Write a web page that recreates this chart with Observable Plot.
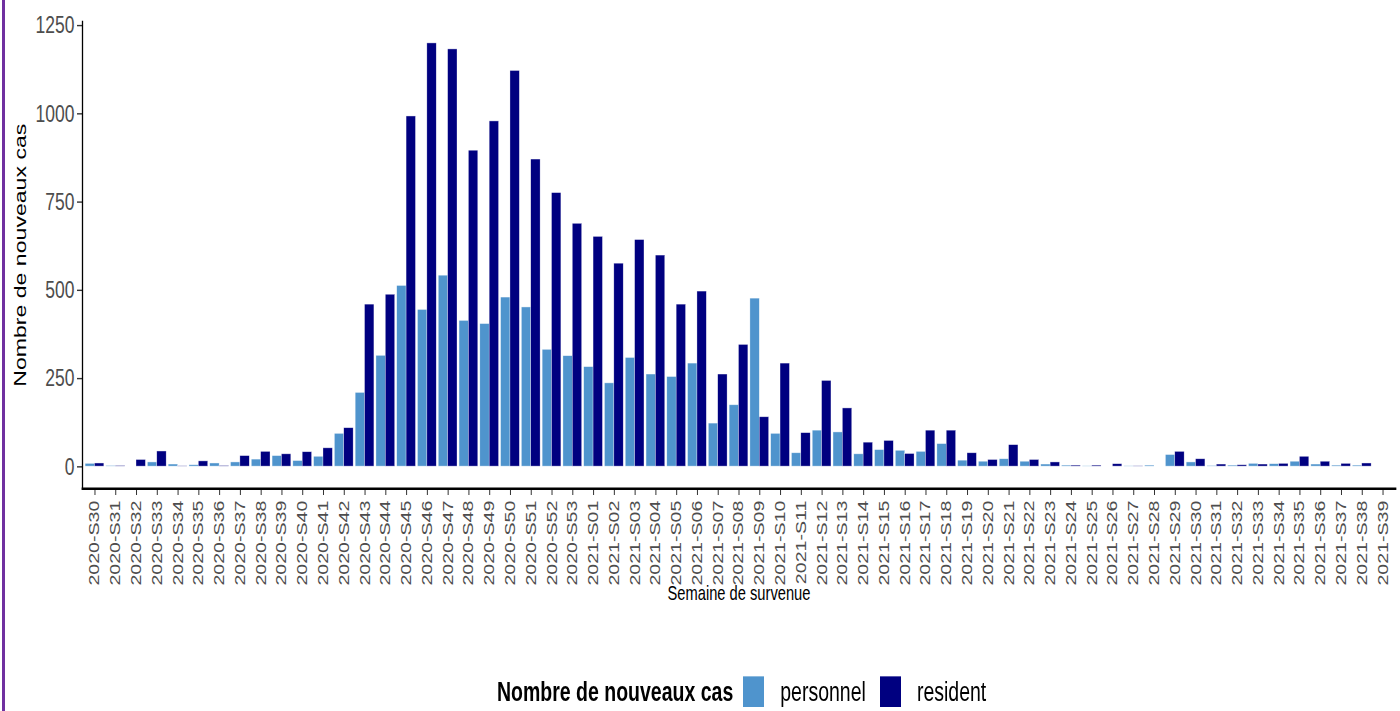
<!DOCTYPE html>
<html>
<head>
<meta charset="utf-8">
<script src="https://cdn.jsdelivr.net/npm/d3@7"></script>
<script src="https://cdn.jsdelivr.net/npm/@observablehq/plot@0.6"></script>
<style>
  html, body { margin: 0; padding: 0; background: #fff; overflow: hidden; }
  body { width: 1400px; height: 711px; position: relative; font-family: "Liberation Sans", Arial, sans-serif; }
  #edge { position: absolute; left: 2px; top: 0; width: 3px; height: 711px; background: #7030a0; z-index: 5; }
  #wrap { position: absolute; left: 0; top: 0; width: 1400px; height: 508px; transform: scaleY(1.4); transform-origin: 0 0; }
  #chart svg { overflow: visible; display: block; }
  #legend { position: absolute; left: 497px; top: 483px; height: 22px; display: flex; align-items: center; font-size: 19.5px; color: #000; white-space: nowrap; }
  #legend .title { font-weight: bold; margin-right: 10px; }
  #legend .sw { width: 21px; height: 22px; margin-right: 16px; }
  #legend .lab { margin-right: 14px; }
</style>
</head>
<body>
<div id="wrap">
  <div id="chart"></div>
  <div id="legend"></div>
</div>
<div id="edge"></div>
<script>
const weeks = [
  "2020-S30","2020-S31","2020-S32","2020-S33","2020-S34","2020-S35","2020-S36","2020-S37",
  "2020-S38","2020-S39","2020-S40","2020-S41","2020-S42","2020-S43","2020-S44","2020-S45",
  "2020-S46","2020-S47","2020-S48","2020-S49","2020-S50","2020-S51","2020-S52","2020-S53",
  "2021-S01","2021-S02","2021-S03","2021-S04","2021-S05","2021-S06","2021-S07","2021-S08",
  "2021-S09","2021-S10","2021-S11","2021-S12","2021-S13","2021-S14","2021-S15","2021-S16",
  "2021-S17","2021-S18","2021-S19","2021-S20","2021-S21","2021-S22","2021-S23","2021-S24",
  "2021-S25","2021-S26","2021-S27","2021-S28","2021-S29","2021-S30","2021-S31","2021-S32",
  "2021-S33","2021-S34","2021-S35","2021-S36","2021-S37","2021-S38","2021-S39"
];
const personnel = [
  8, 2, 0, 12, 6, 4, 9, 12,
  20, 30, 16, 28, 93, 209, 314, 512,
  444, 541, 413, 404, 479, 451, 331, 313,
  282, 236, 308, 261, 254, 292, 122, 174,
  476, 93, 38, 102, 97, 35, 47, 45,
  42, 64, 17, 14, 21, 14, 6, 3,
  1, 0, 1, 3, 33, 12, 2, 3,
  8, 7, 14, 6, 3, 3, 0
];
const resident = [
  9, 2, 19, 43, 1, 15, 2, 30,
  42, 35, 41, 52, 109, 459, 487, 992,
  1199, 1182, 895, 978, 1121, 870, 775, 688,
  651, 575, 642, 598, 459, 496, 261, 345,
  140, 292, 95, 243, 165, 68, 73, 36,
  102, 102, 38, 19, 61, 19, 12, 3,
  3, 7, 1, 0, 42, 21, 6, 4,
  6, 8, 28, 14, 8, 9, 0
];
const seriesNames = ["personnel", "resident"];
const seriesColors = ["#4f94cd", "#000080"];
const yTicks = [0, 250, 500, 750, 1000, 1250];
const yDomain = [-62, 1261];
const yTitle = "Nombre de nouveaux cas";
const xTitle = "Semaine de survenue";
const legendTitle = "Nombre de nouveaux cas";

const rows = [];
weeks.forEach((w, i) => {
  rows.push({week: w, serie: "personnel", n: personnel[i]});
  rows.push({week: w, serie: "resident", n: resident[i]});
});

const W = 1400, H = 440, mL = 82, mR = 5, mT = 15, mB = 91.4;
const pi = 0.1, po = 0.15;
const step = (W - mL - mR) / (weeks.length - pi + 2 * po);
const half = step * (1 - pi) / 2;

const barOpts = {x: "week", y: "n", fill: "serie", stroke: "white", strokeWidth: 0.5, strokeOpacity: 0.6};

const chart = Plot.plot({
  width: W, height: H,
  marginLeft: mL, marginRight: mR, marginTop: mT, marginBottom: mB,
  style: {fontFamily: "'Liberation Sans', Arial, sans-serif", background: "#fff", overflow: "visible"},
  x: {type: "band", domain: weeks, paddingInner: pi, paddingOuter: po},
  y: {domain: yDomain},
  color: {domain: seriesNames, range: seriesColors},
  marks: [
    Plot.barY(rows.filter(d => d.serie === "personnel"), {...barOpts, insetRight: half}),
    Plot.barY(rows.filter(d => d.serie === "resident"), {...barOpts, insetLeft: half}),
    Plot.axisY({ticks: yTicks, tickFormat: d => String(d), tickSize: 5, tickPadding: 3, fontSize: 17.5, stroke: "#333", fill: "#4d4d4d", label: null}),
    Plot.axisX({tickRotate: -90, tickSize: 5, tickPadding: 3.5, fontSize: 14, stroke: "#333", fill: "#4d4d4d", label: null}),
    Plot.frame({anchor: "left", stroke: "#000", strokeWidth: 1.3}),
    Plot.frame({anchor: "bottom", stroke: "#000", strokeWidth: 1.7}),
    Plot.text([yTitle], {frameAnchor: "left", dx: -62, rotate: -90, textAnchor: "middle", lineAnchor: "middle", fontSize: 16.5, fill: "#000"}),
    Plot.text([xTitle], {frameAnchor: "bottom", dy: 74.5, textAnchor: "middle", lineAnchor: "middle", fontSize: 14.7, fill: "#000"})
  ]
});
document.getElementById("chart").appendChild(chart);

const legend = document.getElementById("legend");
const t = document.createElement("span");
t.className = "title";
t.textContent = legendTitle;
legend.appendChild(t);
seriesNames.forEach((s, i) => {
  const sw = document.createElement("span");
  sw.className = "sw";
  sw.style.background = seriesColors[i];
  legend.appendChild(sw);
  const lab = document.createElement("span");
  lab.className = "lab";
  lab.textContent = s;
  legend.appendChild(lab);
});
</script>
</body>
</html>
